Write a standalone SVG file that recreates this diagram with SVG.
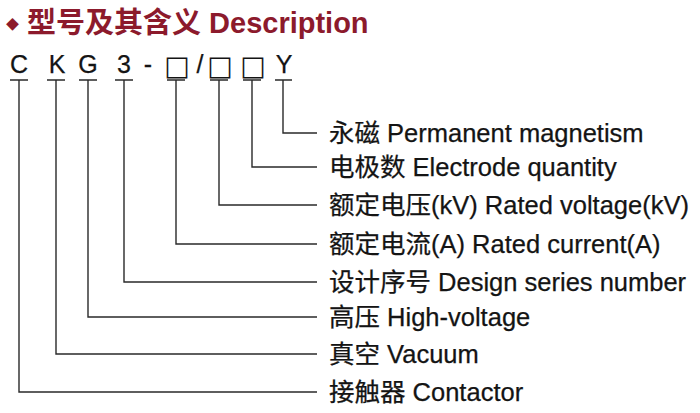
<svg xmlns="http://www.w3.org/2000/svg" width="700" height="413" viewBox="0 0 700 413">
<style>
.t{font-family:"Liberation Sans","Noto Sans CJK SC",sans-serif;fill:#141414;stroke:#141414;stroke-width:0.25}
.lbl{font-size:25.5px}
.code{font-size:25px;text-anchor:middle}
.box{font-family:"DejaVu Sans",sans-serif;font-size:27px;text-anchor:middle;fill:#141414}
.title{font-family:"Liberation Sans","Noto Sans CJK SC",sans-serif;font-weight:bold;font-size:29px;fill:#8c1a2c}
.ln{fill:none;stroke:#2a2a2a;stroke-width:1.4}
</style>
<rect width="700" height="413" fill="#ffffff"/>
<g id="title">
<text x="6" y="29" class="title" style="font-size:13px">◆</text>
<text x="27" y="33" class="title">型号及其含义 Description</text>
</g>
<g id="code">
<text x="19" y="73" class="t code">C</text>
<text x="57" y="73" class="t code">K</text>
<text x="88" y="73" class="t code">G</text>
<text x="124" y="73" class="t code">3</text>
<text x="148" y="73" class="t code">-</text>
<text x="177" y="75" class="box">□</text>
<text x="200" y="73" class="t code">/</text>
<text x="220" y="75" class="box">□</text>
<text x="253" y="75" class="box">□</text>
<text x="284" y="73" class="t code">Y</text>
</g>
<g id="connectors">
<path class="ln" d="M275 80H292M283 80V133H317"/>
<path class="ln" d="M243 80H261M252 80V167H317"/>
<path class="ln" d="M210 80H228M219 80V205H317"/>
<path class="ln" d="M167 80H185M176 80V244H317"/>
<path class="ln" d="M115 80H133M124 80V282H317"/>
<path class="ln" d="M79 80H97M88 80V317H317"/>
<path class="ln" d="M47 80H65M56 80V354H317"/>
<path class="ln" d="M10 80H28M19 80V392H317"/>
</g>
<g id="n1"><text x="329" y="142" class="t lbl">永磁 Permanent magnetism</text></g>
<g id="n2"><text x="329" y="176" class="t lbl">电极数 Electrode quantity</text></g>
<g id="n3"><text x="329" y="214" class="t lbl">额定电压(kV) Rated voltage(kV)</text></g>
<g id="n4"><text x="329" y="253" class="t lbl">额定电流(A) Rated current(A)</text></g>
<g id="n5"><text x="329" y="291" class="t lbl">设计序号 Design series number</text></g>
<g id="n6"><text x="329" y="326" class="t lbl">高压 High-voltage</text></g>
<g id="n7"><text x="329" y="363" class="t lbl">真空 Vacuum</text></g>
<g id="n8"><text x="329" y="401" class="t lbl">接触器 Contactor</text></g>
</svg>
